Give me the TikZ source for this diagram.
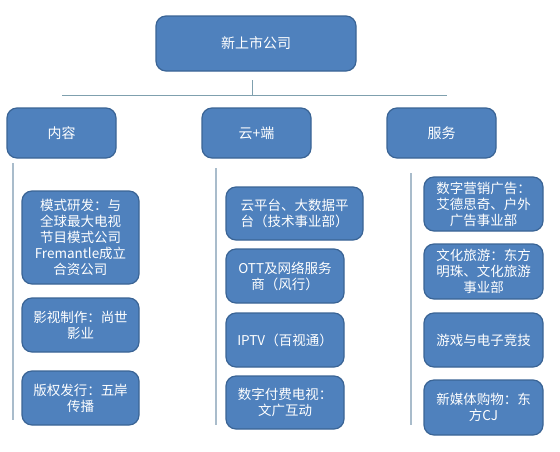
\documentclass[tikz,border=0pt]{standalone}
\usepackage{fontspec}
\setmainfont{Noto Sans CJK SC}
\definecolor{boxblue}{HTML}{4F81BD}
\definecolor{boxedge}{HTML}{3A6495}
\definecolor{barline}{HTML}{7FA0AE}
\definecolor{colline}{HTML}{A9BCCB}

\begin{document}
\begin{tikzpicture}[
	x=1pt, y=-1pt,
	unit/.style={draw=boxedge, fill=boxblue, line width=1.2pt,
		rounded corners=10pt, text=white, align=center, inner sep=0pt},
	head/.style={unit, font=\fontsize{14}{16}\selectfont},
	item/.style={unit, font=\fontsize{13.5}{16}\selectfont},
	bar/.style={color=barline, line width=1pt},
	column/.style={color=colline, line width=1.5pt}
	]
	\useasboundingbox (0,0) rectangle (560,451);

	% top level
	\node[head, minimum width=200, minimum height=55] (top)
		at (256,43.5) {新上市公司};

	\coordinate (stem) at (252,80);
	\coordinate (barL) at (62,95);
	\coordinate (barR) at (447,95);
	\draw[bar] (stem) -- (stem |- barL);
	\draw[bar] (barL) -- (barR);

	% second level
	\node[head, minimum width=109, minimum height=50] (content)
		at (61.5,133) {内容};
	\node[head, minimum width=109, minimum height=50] (cloud)
		at (256.5,133) {云+端};
	\node[head, minimum width=109, minimum height=50] (service)
		at (441.5,133) {服务};

	% column lines
	\coordinate (contentA) at (13,163);
	\coordinate (contentB) at (13,420);
	\coordinate (cloudA) at (216,168);
	\coordinate (cloudB) at (216,425);
	\coordinate (serviceA) at (411,173);
	\coordinate (serviceB) at (411,425);
	\draw[column] (contentA) -- (contentB);
	\draw[column] (cloudA) -- (cloudB);
	\draw[column] (serviceA) -- (serviceB);

	% content items
	\node[item, minimum width=117, minimum height=93] (content1)
		at (80.5,237.5) {模式研发：与\\全球最大电视\\节目模式公司\\Fremantle成立\\合资公司};
	\node[item, minimum width=117, minimum height=54] (content2)
		at (80.5,325) {影视制作：尚世\\影业};
	\node[item, minimum width=117, minimum height=54] (content3)
		at (80.5,398) {版权发行：五岸\\传播};

	% cloud items
	\node[item, minimum width=137, minimum height=53] (cloud1)
		at (294.5,213.5) {云平台、大数据平\\台（技术事业部）};
	\node[item, minimum width=118, minimum height=54] (cloud2)
		at (285,276) {OTT及网络服务\\商（风行）};
	\node[item, minimum width=118, minimum height=54] (cloud3)
		at (285,340) {IPTV（百视通）};
	\node[item, minimum width=118, minimum height=53] (cloud4)
		at (285,402.5) {数字付费电视：\\文广互动};

	% service items
	\node[item, minimum width=119, minimum height=54] (service1)
		at (483.5,204) {数字营销广告：\\艾德思奇、户外\\广告事业部};
	\node[item, minimum width=119, minimum height=55] (service2)
		at (483.5,271.5) {文化旅游：东方\\明珠、文化旅游\\事业部};
	\node[item, minimum width=119, minimum height=54] (service3)
		at (483.5,340) {游戏与电子竞技};
	\node[item, minimum width=119, minimum height=55] (service4)
		at (483.5,407.5) {新媒体购物：东\\方CJ};
\end{tikzpicture}
\end{document}
